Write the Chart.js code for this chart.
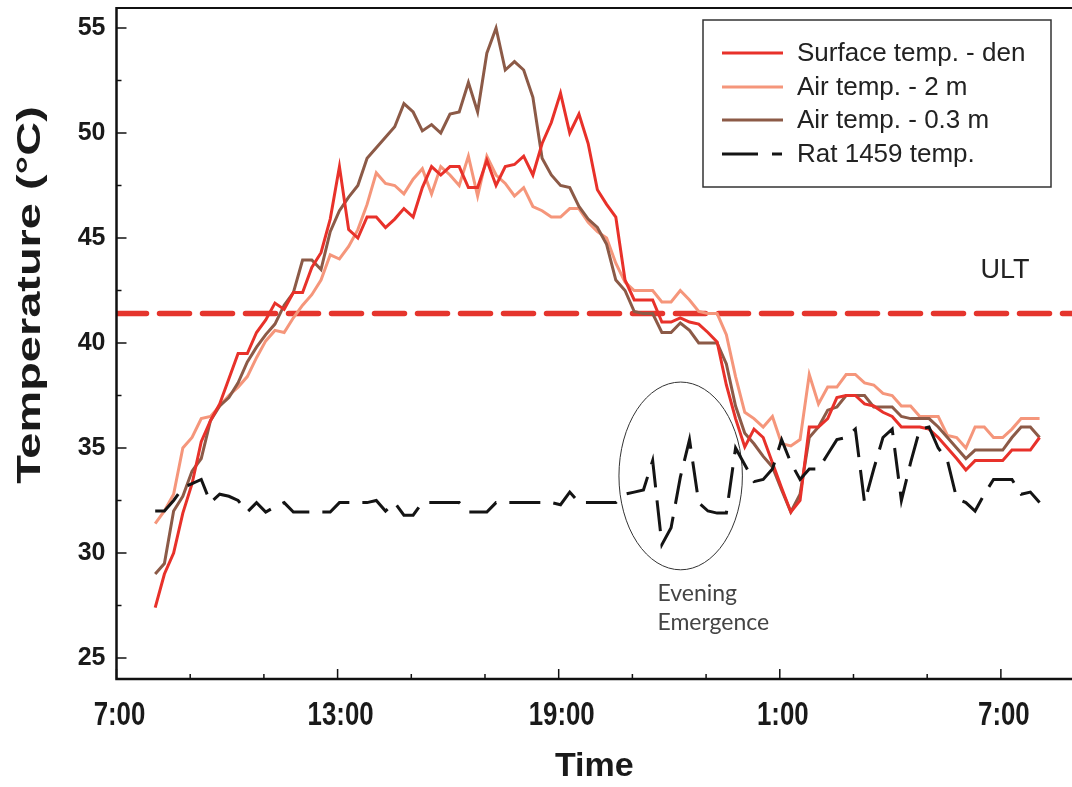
<!DOCTYPE html>
<html>
<head>
<meta charset="utf-8">
<script src="https://cdn.jsdelivr.net/npm/chart.js@4.4.1/dist/chart.umd.min.js"></script>
<style>
  html, body { margin: 0; padding: 0; background: #fff; }
  #wrap { width: 1072px; height: 787px; }
</style>
</head>
<body>
<div id="wrap"><canvas id="tempChart" width="1072" height="787"></canvas></div>
<script>
// readings every 15 min, starting just after 8:00 (hours counted from 7:00)
const START_HOUR = 1.05;
const STEP_HOURS = 0.25;

const surfaceTemp = [
  27.4, 29.0, 30.0, 31.9, 33.3, 35.3, 36.3, 37.1, 38.3, 39.5,
  39.5, 40.5, 41.1, 41.9, 41.6, 42.4, 42.4, 43.6, 44.3, 45.9,
  48.4, 45.4, 45.0, 46.0, 46.0, 45.5, 45.9, 46.4, 46.0, 47.4,
  48.4, 48.0, 48.4, 48.4, 47.4, 47.4, 48.7, 47.5, 48.4, 48.5,
  48.9, 48.0, 49.5, 50.5, 51.9, 50.0, 50.9, 49.5, 47.3, 46.6,
  46.0, 43.0, 42.05, 42.05, 42.05, 41.0, 41.0, 41.2, 41.0, 40.9,
  40.5, 40.05, 38.0, 36.4, 35.05, 35.9, 35.5, 34.3, 33.1, 31.95,
  32.5, 36.0, 36.0, 36.4, 37.4, 37.5, 37.5, 37.1, 37.0, 36.7,
  36.5, 36.0, 36.0, 36.0, 35.9, 35.5, 35.0, 34.5, 33.95, 34.4,
  34.4, 34.4, 34.4, 34.9, 34.9, 34.9, 35.5
];

const airTemp2m = [
  31.4, 32.0, 32.8, 35.0, 35.5, 36.4, 36.5, 37.0, 37.5, 37.9,
  38.4, 39.3, 40.1, 40.6, 40.5, 41.2, 41.8, 42.3, 43.0, 44.2,
  44.0, 44.6, 45.4, 46.6, 48.1, 47.6, 47.5, 47.1, 47.8, 48.3,
  47.1, 48.4, 48.0, 47.5, 48.9, 47.0, 48.9, 48.0, 47.6, 47.0,
  47.4, 46.5, 46.3, 46.0, 46.0, 46.4, 46.4, 45.75, 45.3, 45.0,
  43.8, 42.9, 42.5, 42.5, 42.5, 41.95, 41.95, 42.5, 42.05, 41.5,
  41.4, 41.4, 40.4, 38.4, 36.7, 36.4, 36.0, 36.5, 35.2, 35.1,
  35.4, 38.5, 37.1, 37.9, 37.9, 38.5, 38.5, 38.1, 38.0, 37.6,
  37.5, 37.0, 37.0, 36.5, 36.5, 36.5, 35.6, 35.5, 35.0, 36.0,
  36.0, 35.5, 35.5, 35.9, 36.4, 36.4, 36.4
];

const airTemp03m = [
  29.0, 29.5, 32.0, 32.7, 33.9, 34.5, 36.3, 37.0, 37.4, 38.1,
  39.1, 39.8, 40.4, 40.9, 41.8, 42.4, 43.95, 43.95, 43.5, 45.3,
  46.3, 46.95, 47.5, 48.8, 49.3, 49.8, 50.3, 51.4, 51.0, 50.1,
  50.4, 50.0, 50.9, 51.0, 52.4, 51.0, 53.8, 55.0, 53.0, 53.4,
  53.0, 51.7, 48.8, 48.0, 47.5, 47.4, 46.5, 45.9, 45.5, 44.7,
  43.0, 42.5, 41.5, 41.4, 41.4, 40.5, 40.5, 40.95, 40.6, 40.0,
  40.0, 40.0, 39.0, 37.0, 35.7, 35.2, 34.6, 34.1, 33.0, 31.95,
  32.8, 35.5, 36.0, 36.8, 36.95, 37.5, 37.5, 37.5, 36.95, 36.95,
  36.95, 36.5, 36.4, 36.4, 36.4, 36.0, 35.5, 35.0, 34.5, 34.9,
  34.9, 34.9, 34.9, 35.5, 36.0, 36.0, 35.5
];

const rat1459 = [
  32.0, 32.0, 32.5, 33.1, 33.3, 33.5, 32.4, 32.8, 32.7, 32.5,
  31.95, 32.4, 31.95, 32.2, 32.4, 31.95, 31.95, 31.95, 31.95, 31.95,
  32.4, 32.4, 32.4, 32.4, 32.5, 32.0, 32.4, 31.8, 31.8, 32.4,
  32.4, 32.4, 32.4, 32.4, 31.95, 31.95, 31.95, 32.4, 32.4, 32.4,
  32.4, 32.4, 32.4, 32.4, 32.3, 32.9, 32.4, 32.4, 32.4, 32.4,
  32.4, 32.8, 32.9, 33.0, 34.4, 30.4, 31.2, 33.6, 35.4, 32.4,
  32.0, 31.9, 31.9, 35.0, 34.2, 33.4, 33.5, 34.0, 35.4, 34.3,
  33.5, 34.0, 34.0, 34.7, 35.4, 35.5, 35.9, 32.4, 34.0, 35.5,
  35.9, 32.5, 34.3, 35.9, 36.0, 35.0, 34.4, 32.6, 32.4, 32.0,
  32.8, 33.5, 33.5, 33.5, 32.8, 32.9, 32.4
];

const ULT = 41.4;
const xTickLabels = ['7:00', '13:00', '19:00', '1:00', '7:00'];
const seriesNames = ['Surface temp. - den', 'Air temp. - 2 m', 'Air temp. - 0.3 m', 'Rat 1459 temp.'];

const X_MIN = 0, X_MAX = 25.93;
const Y_MIN = 24, Y_MAX = 56;

const RED = '#E8312A';
const SALMON = '#F5967B';
const BROWN = '#8C5A47';
const BLACK = '#141414';
const TEXT = '#1a1a1a';

function toPoints(values) {
  return values.map((v, i) => ({ x: START_HOUR + i * STEP_HOURS, y: v }));
}

const lineStyle = { pointRadius: 0, borderWidth: 3, tension: 0, fill: false, borderJoinStyle: 'miter' };

// legend, axis frame, tick marks, stretched axis text and the notes inside the plot
const decorations = {
  id: 'decorations',
  beforeDatasetsDraw(chart) {
    const { ctx, scales: { x, y } } = chart;
    // ellipse round the evening emergence
    const cx = x.getPixelForValue(15.31), cy = y.getPixelForValue(33.67);
    const rx = x.getPixelForValue(15.31 + 1.675) - cx;
    const ry = cy - y.getPixelForValue(33.67 + 4.47);
    ctx.save();
    ctx.strokeStyle = '#333';
    ctx.lineWidth = 1;
    ctx.beginPath();
    ctx.ellipse(cx, cy, rx, ry, 0, 0, Math.PI * 2);
    ctx.stroke();
    ctx.restore();
  },
  afterDraw(chart) {
    const { ctx, chartArea: a, scales: { x, y } } = chart;
    ctx.save();
    ctx.strokeStyle = '#111';
    ctx.lineCap = 'butt';

    ctx.lineWidth = 2.5;
    ctx.beginPath();
    ctx.moveTo(a.left, a.top);
    ctx.lineTo(a.left, a.bottom);
    ctx.lineTo(a.right, a.bottom);
    ctx.stroke();
    ctx.lineWidth = 2;
    ctx.beginPath();
    ctx.moveTo(a.left, a.top + 1);
    ctx.lineTo(a.right, a.top + 1);
    ctx.stroke();

    ctx.lineWidth = 1.5;
    x.ticks.forEach(t => {
      const px = x.getPixelForValue(t.value);
      const len = t.value % 6 === 0 ? 10 : 5;
      ctx.beginPath();
      ctx.moveTo(px, a.bottom);
      ctx.lineTo(px, a.bottom - len);
      ctx.stroke();
    });
    y.ticks.forEach(t => {
      const py = y.getPixelForValue(t.value);
      const len = t.value % 5 === 0 ? 10 : 5;
      ctx.beginPath();
      ctx.moveTo(a.left, py);
      ctx.lineTo(a.left + len, py);
      ctx.stroke();
    });

    // condensed hour labels under the major ticks
    ctx.fillStyle = TEXT;
    ctx.font = 'bold 34px "Liberation Sans", Arial, sans-serif';
    ctx.textAlign = 'center';
    ctx.textBaseline = 'alphabetic';
    x.ticks.forEach(t => {
      if (t.value % 6 !== 0) return;
      const px = x.getPixelForValue(t.value) + 3;
      ctx.save();
      ctx.translate(px, 725);
      ctx.scale(0.76, 1);
      ctx.fillText(xTickLabels[t.value / 6], 0, 0);
      ctx.restore();
    });

    // y axis title, drawn stretched along its length
    ctx.save();
    ctx.translate(31, 295);
    ctx.rotate(-Math.PI / 2);
    ctx.scale(1.38, 1);
    ctx.textBaseline = 'middle';
    ctx.font = 'bold 34px "Liberation Sans", Arial, sans-serif';
    ctx.fillText('Temperature (°C)', 0, 0);
    ctx.restore();

    // ULT label
    ctx.textAlign = 'left';
    ctx.fillStyle = '#222';
    ctx.font = '27px "Liberation Sans", Arial, sans-serif';
    ctx.fillText('ULT', x.getPixelForValue(23.45), y.getPixelForValue(ULT) - 36);

    // note under the ellipse
    ctx.fillStyle = '#444';
    ctx.font = '23px Lato, "Open Sans", sans-serif';
    const nx = x.getPixelForValue(14.68);
    ctx.fillText('Evening', nx, 601);
    ctx.fillText('Emergence', nx, 630);

    // legend box
    const bx = 703, by = 20, bw = 348, bh = 167;
    ctx.fillStyle = '#fff';
    ctx.fillRect(bx, by, bw, bh);
    ctx.strokeStyle = '#333';
    ctx.lineWidth = 1.5;
    ctx.strokeRect(bx, by, bw, bh);
    ctx.font = '26px "Liberation Sans", Arial, sans-serif';
    ctx.textBaseline = 'middle';
    const rows = [53, 87, 120, 154];
    chart.data.datasets.slice(0, 4).forEach((ds, i) => {
      const ly = rows[i];
      ctx.strokeStyle = ds.borderColor;
      ctx.lineWidth = 3;
      ctx.setLineDash(i === 3 ? [36, 14, 10, 20] : []);
      ctx.beginPath();
      ctx.moveTo(722, ly);
      ctx.lineTo(783, ly);
      ctx.stroke();
      ctx.setLineDash([]);
      ctx.fillStyle = '#222';
      ctx.fillText(seriesNames[i], 797, ly + 1);
    });
    ctx.restore();
  }
};

const ctx = document.getElementById('tempChart').getContext('2d');
new Chart(ctx, {
  type: 'line',
  data: {
    datasets: [
      { label: seriesNames[0], data: toPoints(surfaceTemp), borderColor: RED, order: 2, ...lineStyle },
      { label: seriesNames[1], data: toPoints(airTemp2m), borderColor: SALMON, order: 4, ...lineStyle },
      { label: seriesNames[2], data: toPoints(airTemp03m), borderColor: BROWN, order: 3, ...lineStyle },
      { label: seriesNames[3], data: toPoints(rat1459), borderColor: BLACK, borderDash: [31, 13], order: 1, ...lineStyle },
      { label: 'ULT', data: [{ x: X_MIN, y: ULT }, { x: X_MAX, y: ULT }], borderColor: '#E5352D',
        borderDash: [30, 13], order: 5, ...lineStyle, borderWidth: 5.5, borderCapStyle: 'round' }
    ]
  },
  options: {
    responsive: false,
    animation: false,
    layout: { padding: { top: 7, right: 0, left: 0, bottom: 0 } },
    plugins: { legend: { display: false }, tooltip: { enabled: false } },
    scales: {
      x: {
        type: 'linear',
        min: X_MIN,
        max: X_MAX,
        afterBuildTicks: scale => {
          scale.ticks = [0, 2, 4, 6, 8, 10, 12, 14, 16, 18, 20, 22, 24].map(v => ({ value: v }));
        },
        afterFit: scale => {
          scale.height = 108;
          scale.paddingLeft = 0;
          scale.paddingRight = 0;
        },
        grid: { display: false, drawTicks: false },
        border: { display: false },
        ticks: { autoSkip: false, maxRotation: 0, callback: () => '' },
        title: {
          display: true,
          text: 'Time',
          color: TEXT,
          padding: { top: 0, bottom: 0 },
          font: { family: '"Liberation Sans", Arial, sans-serif', size: 34, weight: 'bold' }
        }
      },
      y: {
        min: Y_MIN,
        max: Y_MAX,
        afterBuildTicks: scale => {
          const t = [];
          for (let v = 25; v <= 55; v += 2.5) t.push({ value: v });
          scale.ticks = t;
        },
        afterFit: scale => {
          scale.width = 116.5;
          scale.paddingTop = 0;
          scale.paddingBottom = 0;
        },
        grid: { display: false, drawTicks: false },
        border: { display: false },
        ticks: {
          autoSkip: false,
          padding: 11,
          color: TEXT,
          font: { family: '"Liberation Sans", Arial, sans-serif', size: 25, weight: 'bold' },
          callback: v => (v % 5 === 0 ? String(v) : '')
        },
        title: { display: false }
      }
    }
  },
  plugins: [decorations]
});
</script>
</body>
</html>
